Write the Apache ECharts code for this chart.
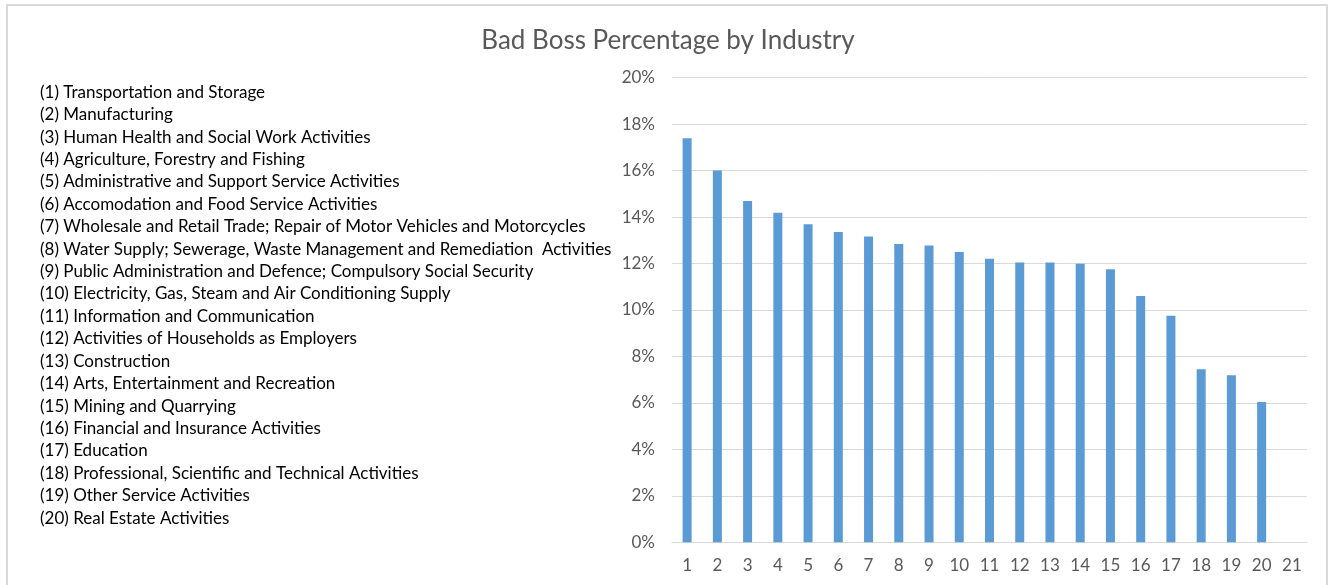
<!DOCTYPE html>
<html>
<head>
<meta charset="utf-8">
<script src="https://cdn.jsdelivr.net/npm/echarts@6/dist/echarts.min.js"></script>
<style>html,body{margin:0;padding:0;background:#fff}#c{width:1332px;height:585px}</style>
</head>
<body>
<div id="c"></div>
<script>
const industries = [
  "Transportation and Storage",
  "Manufacturing",
  "Human Health and Social Work Activities",
  "Agriculture, Forestry and Fishing",
  "Administrative and Support Service Activities",
  "Accomodation and Food Service Activities",
  "Wholesale and Retail Trade; Repair of Motor Vehicles and Motorcycles",
  "Water Supply; Sewerage, Waste Management and Remediation  Activities",
  "Public Administration and Defence; Compulsory Social Security",
  "Electricity, Gas, Steam and Air Conditioning Supply",
  "Information and Communication",
  "Activities of Households as Employers",
  "Construction",
  "Arts, Entertainment and Recreation",
  "Mining and Quarrying",
  "Financial and Insurance Activities",
  "Education",
  "Professional, Scientific and Technical Activities",
  "Other Service Activities",
  "Real Estate Activities"
];
const categories = ["1","2","3","4","5","6","7","8","9","10","11","12","13","14","15","16","17","18","19","20","21"];
const badBossPct = [17.39, 16.0, 14.69, 14.19, 13.69, 13.36, 13.16, 12.84, 12.78, 12.5, 12.21, 12.05, 12.05, 11.99, 11.75, 10.6, 9.75, 7.45, 7.19, 6.04, null];
const yTicks = [0, 2, 4, 6, 8, 10, 12, 14, 16, 18, 20];

const FONT = 'Lato, "Open Sans", sans-serif';
const chart = echarts.init(document.getElementById('c'), null, {renderer: 'canvas'});
chart.setOption({
  animation: false,
  backgroundColor: '#fff',
  title: [{
    text: 'Bad Boss Percentage by Industry',
    left: 663, top: 23, textAlign: 'center',
    textStyle: {fontFamily: FONT, fontSize: 26, fontWeight: 'normal', color: '#595959'}
  }, {
    text: industries.map((n, i) => '(' + (i + 1) + ') ' + n).join('\n'),
    left: 40, top: 81, padding: 0,
    textStyle: {fontFamily: FONT, fontSize: 17, fontWeight: 'normal', color: '#000', lineHeight: 22.42}
  }],
  graphic: [{
    type: 'polyline',
    shape: {points: [[7, 590], [7, 5], [1327, 5], [1327, 590]]},
    style: {stroke: '#d9d9d9', lineWidth: 2, fill: null},
    silent: true
  }],
  grid: {left: 672, right: 25, top: 77.7, bottom: 42.7, containLabel: false},
  xAxis: {
    type: 'category',
    data: categories,
    axisLine: {lineStyle: {color: '#d9d9d9', width: 1}},
    axisTick: {show: false},
    axisLabel: {fontFamily: FONT, fontSize: 17, color: '#595959', margin: 15}
  },
  yAxis: {
    type: 'value',
    min: yTicks[0], max: yTicks[yTicks.length - 1], interval: 2,
    axisLine: {show: false},
    axisTick: {show: false},
    splitLine: {lineStyle: {color: '#d9d9d9', width: 1}},
    axisLabel: {fontFamily: FONT, fontSize: 17, color: '#595959', margin: 17, formatter: v => v + '%'}
  },
  series: [{
    type: 'bar',
    data: badBossPct,
    barWidth: 9,
    itemStyle: {color: '#5b9bd5'}
  }]
});
</script>
</body>
</html>
